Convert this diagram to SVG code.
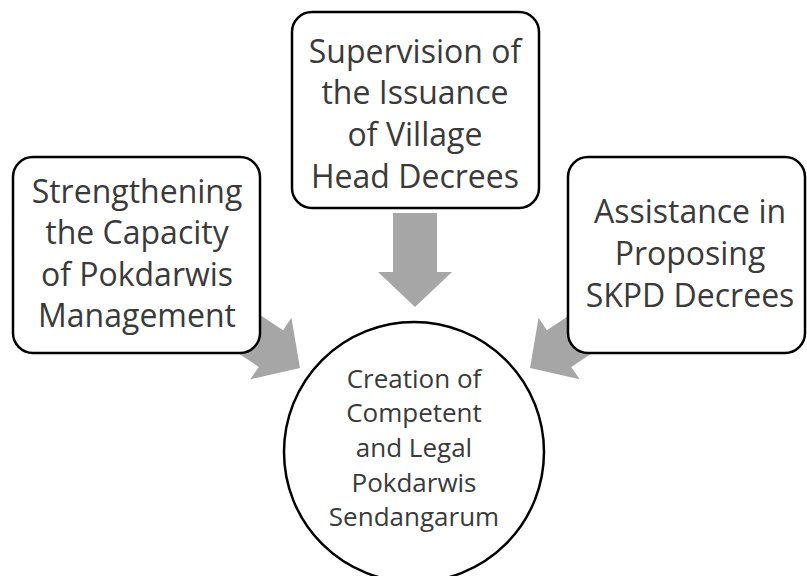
<svg xmlns="http://www.w3.org/2000/svg" width="807" height="576" viewBox="0 0 807 576">
  <defs>
    <style>
      .arrow { fill: #a6a6a6; }
      .box { fill: #ffffff; stroke: #000000; stroke-width: 2.5; }
      .lbl { font-family: "Open Sans", "Liberation Sans", sans-serif; font-size: 32px; fill: #3a3a3a; text-anchor: middle; }
      .clbl { font-family: "Open Sans", "Liberation Sans", sans-serif; font-size: 26px; fill: #3a3a3a; text-anchor: middle; }
    </style>
    <polygon id="arr" points="-94,-22 -35,-22 -35,-37 0,0 -35,37 -35,22 -94,22"/>
  </defs>
  <rect width="807" height="576" fill="#ffffff"/>
  <g id="connectors">
    <use href="#arr" class="arrow" transform="translate(415,307) rotate(90)"/>
    <use href="#arr" class="arrow" transform="translate(300,368) rotate(33.7)"/>
    <use href="#arr" class="arrow" transform="translate(530,368) rotate(146.3)"/>
  </g>
  <g id="node-left">
    <rect class="box" x="13" y="157" width="247" height="196" rx="20"/>
    <text class="lbl" x="137" y="203">Strengthening</text>
    <text class="lbl" x="137" y="244">the Capacity</text>
    <text class="lbl" x="137" y="286">of Pokdarwis</text>
    <text class="lbl" x="137" y="327">Management</text>
  </g>
  <g id="node-top">
    <rect class="box" x="292" y="12" width="247" height="196" rx="20"/>
    <text class="lbl" x="415" y="63">Supervision of</text>
    <text class="lbl" x="415" y="104">the Issuance</text>
    <text class="lbl" x="415" y="146">of Village</text>
    <text class="lbl" x="415" y="188">Head Decrees</text>
  </g>
  <g id="node-right">
    <rect class="box" x="568" y="157" width="237" height="196" rx="20"/>
    <text class="lbl" x="690" y="223">Assistance in</text>
    <text class="lbl" x="690" y="265">Proposing</text>
    <text class="lbl" x="690" y="307">SKPD Decrees</text>
  </g>
  <g id="node-center">
    <circle class="box" cx="414" cy="452" r="130"/>
    <text class="clbl" x="414" y="388">Creation of</text>
    <text class="clbl" x="414" y="422">Competent</text>
    <text class="clbl" x="414" y="457">and Legal</text>
    <text class="clbl" x="414" y="492">Pokdarwis</text>
    <text class="clbl" x="414" y="526">Sendangarum</text>
  </g>
</svg>
